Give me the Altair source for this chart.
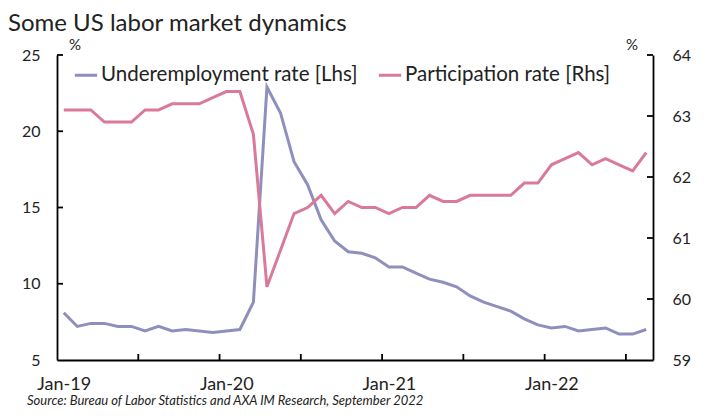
import altair as alt
import pandas as pd

# ---- data ----
month_index = list(range(44))  # Jan-19 .. Aug-22
underemployment = [8.1, 7.2, 7.4, 7.4, 7.2, 7.2, 6.9, 7.2, 6.9, 7.0, 6.9, 6.8,
                   6.9, 7.0, 8.8, 22.9, 21.2, 18.0, 16.5, 14.2, 12.8, 12.1, 12.0, 11.7,
                   11.1, 11.1, 10.7, 10.3, 10.1, 9.8, 9.2, 8.8, 8.5, 8.2, 7.7, 7.3,
                   7.1, 7.2, 6.9, 7.0, 7.1, 6.7, 6.7, 7.0]
participation = [63.1, 63.1, 63.1, 62.9, 62.9, 62.9, 63.1, 63.1, 63.2, 63.2, 63.2, 63.3,
                 63.4, 63.4, 62.7, 60.2, 60.8, 61.4, 61.5, 61.7, 61.4, 61.6, 61.5, 61.5,
                 61.4, 61.5, 61.5, 61.7, 61.6, 61.6, 61.7, 61.7, 61.7, 61.7, 61.9, 61.9,
                 62.2, 62.3, 62.4, 62.2, 62.3, 62.2, 62.1, 62.4]
series_names = ["Underemployment rate [Lhs]", "Participation rate [Rhs]"]
series_colors = ["#8f8fbd", "#d97a9b"]
x_label_pos = [0, 12, 24, 36]
x_labels = ["Jan-19", "Jan-20", "Jan-21", "Jan-22"]
x_tick_pos = [5.5, 11.5, 17.5, 23.5, 29.5, 35.5, 41.5]
left_ticks = [5, 10, 15, 20, 25]
right_ticks = [59, 60, 61, 62, 63, 64]
title_text = "Some US labor market dynamics"
source_text = "Source: Bureau of Labor Statistics and AXA IM Research, September 2022"

W, H = 596, 305
FONT = "Lato"
AX = "#000"
TXT = "#222"

df_u = pd.DataFrame({"month": month_index, "value": underemployment, "series": series_names[0]})
df_p = pd.DataFrame({"month": month_index, "value": participation, "series": series_names[1]})

label_map = "{" + ",".join(f"'{p}':'{l}'" for p, l in zip(x_label_pos, x_labels)) + "}"

x_scale = alt.Scale(domain=[-0.5, 43.5], nice=False, zero=False)
x_axis = alt.Axis(values=x_label_pos, labelExpr=f"{label_map}[datum.value]",
                  labelPadding=15, ticks=False, domainColor=AX, domainWidth=1.8,
                  labelFontSize=18, labelColor=TXT, labelFont=FONT, grid=False, title=None)
left_scale = alt.Scale(domain=[5, 25], nice=False, zero=False)
right_scale = alt.Scale(domain=[59, 64], nice=False, zero=False)
left_axis = alt.Axis(orient="left", values=left_ticks, ticks=False, labelPadding=17,
                     domainColor=AX, domainWidth=1.8, grid=False, title=None,
                     labelFontSize=16, labelColor=TXT, labelFont=FONT)
right_axis = alt.Axis(orient="right", values=right_ticks, ticks=False, labelPadding=19,
                      domainColor=AX, domainWidth=1.8, grid=False, title=None,
                      labelFontSize=16, labelColor=TXT, labelFont=FONT)
color_enc = alt.Color("series:N", scale=alt.Scale(domain=series_names, range=series_colors),
                      legend=alt.Legend(title=None, orient="none", legendX=16, legendY=7,
                                        direction="horizontal", symbolType="stroke",
                                        symbolStrokeWidth=3, symbolSize=500, labelLimit=0,
                                        labelFontSize=20.5, labelFont=FONT, labelColor=TXT,
                                        columnPadding=14, labelOffset=2))

def xe(field="month"):
    return alt.X(f"{field}:Q", scale=x_scale, axis=x_axis, title=None)

purple = alt.Chart(df_u).mark_line(strokeWidth=3).encode(
    x=xe(),
    y=alt.Y("value:Q", scale=left_scale, axis=left_axis, title=None),
    color=color_enc,
)
lt = alt.Chart(pd.DataFrame({"value": left_ticks[1:]})).mark_rule(color=AX, strokeWidth=1.8).encode(
    y=alt.Y("value:Q", scale=left_scale, axis=left_axis, title=None), x=alt.value(0), x2=alt.value(6))
left_group = alt.layer(purple, lt)

pink = alt.Chart(df_p).mark_line(strokeWidth=3).encode(
    x=xe(),
    y=alt.Y("value:Q", scale=right_scale, axis=right_axis, title=None),
    color=color_enc,
)
rt = alt.Chart(pd.DataFrame({"value": right_ticks[1:]})).mark_rule(color=AX, strokeWidth=1.8).encode(
    y=alt.Y("value:Q", scale=right_scale, axis=right_axis, title=None), x=alt.value(W - 6), x2=alt.value(W))
right_group = alt.layer(pink, rt)

xt = alt.Chart(pd.DataFrame({"month": x_tick_pos})).mark_rule(color=AX, strokeWidth=1.8).encode(
    x=xe(), y=alt.value(H - 6), y2=alt.value(H))

title = alt.Chart(pd.DataFrame({"t": [title_text]})).mark_text(
    align="left", baseline="alphabetic", fontSize=24, font=FONT, color=TXT).encode(
    text="t:N", x=alt.value(-49), y=alt.value(-24))
source = alt.Chart(pd.DataFrame({"t": [source_text]})).mark_text(
    align="left", baseline="alphabetic", fontSize=13, font=FONT, fontStyle="italic", color=TXT).encode(
    text="t:N", x=alt.value(-30), y=alt.value(350))
pct = alt.Chart(pd.DataFrame({"t": ["%", "%"], "px": [18, W - 21]})).mark_text(
    align="center", baseline="alphabetic", fontSize=15, font=FONT, color=TXT).encode(
    text="t:N", x=alt.X("px:Q", scale=None), y=alt.value(-5))

chart = alt.layer(left_group, right_group, xt, title, source, pct).resolve_scale(
    y="independent"
).properties(
    width=W, height=H,
    autosize=alt.AutoSizeParams(type="none"),
    padding={"left": 49, "top": 47, "right": 48, "bottom": 48},
).configure_view(stroke=None)

chart.save("out.html", embed_options={"renderer": "svg", "actions": False})
